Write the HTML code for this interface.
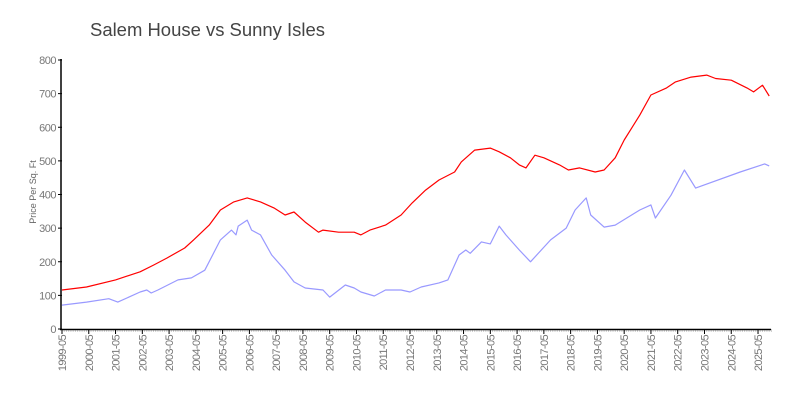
<!DOCTYPE html>
<html><head><meta charset="utf-8"><style>
html,body{margin:0;padding:0;background:#fff;}
svg{display:block;font-family:"Liberation Sans",sans-serif;}
</style></head><body>
<svg id="chart" width="800" height="400" viewBox="0 0 800 400">
<text x="90" y="36" font-size="18" fill="#444" textLength="235" lengthAdjust="spacingAndGlyphs">Salem House vs Sunny Isles</text>
<text transform="translate(36,192) rotate(-90)" text-anchor="middle" font-size="9" fill="#666">Price Per Sq. Ft</text>
<g id="grid"></g>
<g id="axes"></g>
<g id="series"></g>
</svg>
<script>
const yTicks=[0,100,200,300,400,500,600,700,800];
const redDates=["1999-05","2000-04","2001-05","2002-04","2002-10","2003-04","2003-12","2004-04","2004-11","2005-04","2005-10","2006-04","2006-10","2007-04","2007-09","2008-01","2008-06","2008-12","2009-02","2009-09","2010-04","2010-07","2010-11","2011-06","2012-01","2012-06","2012-12","2013-06","2014-01","2014-04","2014-10","2015-05","2015-09","2016-02","2016-06","2016-09","2017-01","2017-05","2017-12","2018-04","2018-09","2019-04","2019-08","2020-01","2020-05","2020-12","2021-05","2021-12","2022-04","2022-11","2023-06","2023-10","2024-05","2024-12","2025-03","2025-07","2025-10"];
const redValues=[116,125,146,170,190,211,241,265,309,354,378,390,378,360,339,348,318,288,294,288,288,280,294,309,339,375,413,443,467,497,532,538,527,509,488,479,517,509,488,473,479,467,473,509,562,636,696,717,735,749,755,745,740,717,705,725,693];
const blueDates=["1999-05","2000-04","2001-02","2001-06","2002-04","2002-07","2002-09","2002-12","2003-09","2004-03","2004-09","2005-04","2005-09","2005-11","2005-12","2006-04","2006-06","2006-10","2007-03","2007-09","2008-01","2008-06","2009-02","2009-05","2009-12","2010-04","2010-07","2011-01","2011-06","2012-01","2012-05","2012-10","2013-06","2013-10","2014-03","2014-06","2014-08","2015-01","2015-05","2015-09","2015-12","2016-06","2016-11","2017-08","2018-03","2018-07","2018-12","2019-02","2019-08","2020-01","2020-12","2021-05","2021-07","2022-02","2022-08","2023-01","2024-09","2025-08","2025-10"];
const blueValues=[71,80,90,80,110,116,107,116,146,152,175,265,294,280,306,324,294,280,220,175,140,122,116,95,131,122,110,98,116,116,110,125,137,146,220,235,225,259,253,306,280,235,200,265,300,354,390,339,303,309,354,369,330,398,473,419,467,491,485];
const xTickLabels=[];for(let y=1999;y<=2025;y++)xTickLabels.push(y+"-05");

const NS="http://www.w3.org/2000/svg";
const X0=62,PXM=26.77/12,Y0=329,PXV=269/800;
function mIdx(d){const p=d.split("-");return (+p[0]-1999)*12+(+p[1]-5);}
function xs(d){return X0+mIdx(d)*PXM;}
function ys(v){return Y0-v*PXV;}
function mk(tag,attrs,parent){const e=document.createElementNS(NS,tag);for(const k in attrs)e.setAttribute(k,attrs[k]);parent.appendChild(e);return e;}
const axes=document.getElementById("axes"),series=document.getElementById("series");
for(let m=0;m<=318;m++){
  const t=mk("line",{x1:X0+m*PXM,x2:X0+m*PXM,y1:Y0,y2:Y0+3,stroke:"#ccc","stroke-width":1},axes);
  
  
}
const ax=mk("line",{x1:61,x2:61,y1:59,y2:330,stroke:"#000","stroke-width":1.5},axes);


const bx=mk("line",{x1:60,x2:771,y1:329.5,y2:329.5,stroke:"#000","stroke-width":1.5},axes);


yTicks.forEach(v=>{
  const t=mk("line",{x1:58,x2:62,y1:ys(v),y2:ys(v),stroke:"#000"},axes);
  
  
  const l=mk("text",{x:56,y:ys(v)+4,"text-anchor":"end","font-size":11,fill:"#777","letter-spacing":"-0.5"},axes);
  l.textContent=v;
  
  
});
xTickLabels.forEach(s=>{
  const x=xs(s);
  const t=mk("line",{x1:x,x2:x,y1:Y0,y2:Y0+5,stroke:"#000"},axes);
  
  
  const l=mk("text",{transform:`translate(${x+4},${Y0+6}) rotate(-90)`,"text-anchor":"end","font-size":11,fill:"#777","letter-spacing":"-0.6"},axes);
  l.textContent=s;
  
  
});
function line(dates,vals,color,name){
  const pts=dates.map((d,i)=>xs(d).toFixed(1)+","+ys(vals[i]).toFixed(1)).join(" ");
  const p=mk("polyline",{points:pts,fill:"none",stroke:color,"stroke-width":1.2,"stroke-linejoin":"round"},series);
  
  
}
line(blueDates,blueValues,"#9999ff","sunny-isles-line");
line(redDates,redValues,"#ff0000","salem-house-line");
</script>
</body></html>
